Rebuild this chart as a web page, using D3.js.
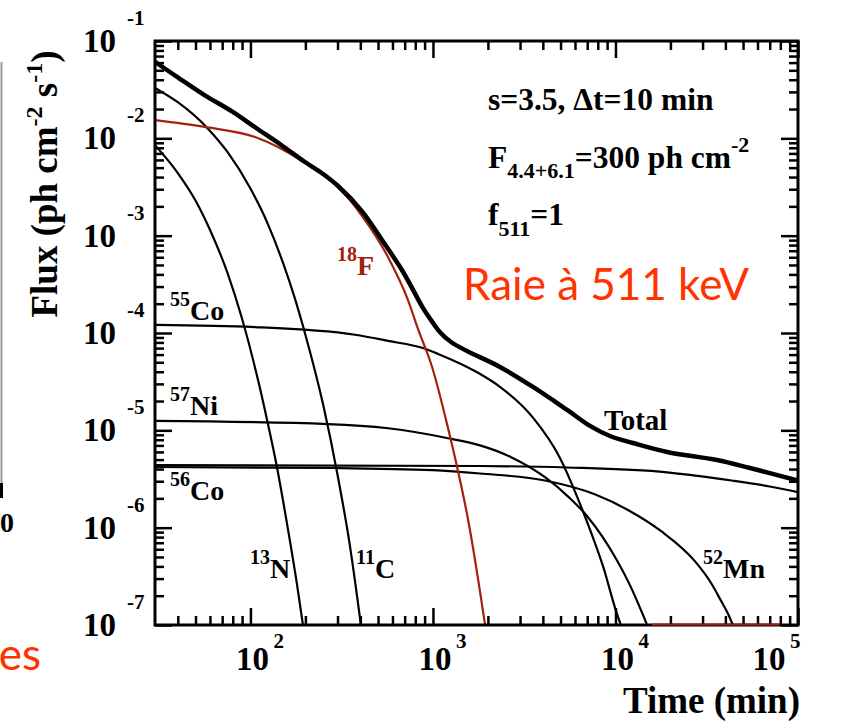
<!DOCTYPE html>
<html><head><meta charset="utf-8">
<script src="https://cdn.jsdelivr.net/npm/d3@7"></script>
<style>body{margin:0;background:#fff}svg{display:block}</style>
</head><body><svg id="chart" width="843" height="725"></svg>
<script>
// ---------- data ----------
const xMajorTicks = [100, 1000, 10000, 100000];
const xMajorExp = ["2", "3", "4", "5"];
const yMajorTicks = [1e-7, 1e-6, 1e-5, 1e-4, 1e-3, 1e-2, 1e-1];
const yMajorExp = ["-7", "-6", "-5", "-4", "-3", "-2", "-1"];

const totalT = [30, 40, 56, 80, 106, 150, 199, 250, 302, 408, 526, 676, 778, 881, 1000, 1093, 1256, 1538, 2328, 3532, 5433, 7250, 9330, 12470, 19190, 35970, 54580, 100000];
const totalF = [6.1e-2, 4.23e-2, 2.78e-2, 1.87e-2, 1.3e-2, 8.34e-3, 5.71e-3, 4.3e-3, 3.24e-3, 1.79e-3, 9.0e-4, 4.44e-4, 2.77e-4, 1.81e-4, 1.27e-4, 1.02e-4, 8.08e-5, 6.52e-5, 4.48e-5, 2.79e-5, 1.62e-5, 1.11e-5, 8.74e-6, 7.41e-6, 5.99e-6, 4.95e-6, 4.1e-6, 3.05e-6];

const f18T = [30, 56, 106, 199, 302, 408, 568, 730, 828, 988, 1210, 1372, 1556, 1811, 1930];
const f18F = [1.54e-2, 1.31e-2, 1.03e-2, 5.6e-3, 3.16e-3, 1.6e-3, 6.0e-4, 2.18e-4, 1.1e-4, 4.5e-5, 1.05e-5, 3.8e-6, 1.22e-6, 2.2e-7, 1.0e-7];
const f18FloorT = [15800, 79000];
const f18FloorF = [1e-7, 1e-7];

const c11T = [30, 40, 58, 75, 100, 125, 150, 175, 200, 250, 300, 350, 403];
const c11F = [3.3e-2, 2.35e-2, 1.28e-2, 7.2e-3, 3.05e-3, 1.3e-3, 5.4e-4, 2.28e-4, 9.6e-5, 1.85e-5, 3.5e-6, 6.7e-7, 1.0e-7];

const n13T = [30, 40, 50, 60, 75, 90, 110, 124, 139, 160, 180, 194];
const n13F = [8.5e-3, 4.4e-3, 2.3e-3, 1.15e-3, 4.1e-4, 1.4e-4, 3.3e-5, 1.22e-5, 4.4e-6, 1.0e-6, 2.6e-7, 1.0e-7];

const co55T = [30, 106, 374, 568, 881, 1067, 1766, 2328, 3532, 4966, 6152, 6982, 8551, 10190, 10700];
const co55F = [1.21e-4, 1.15e-4, 9.6e-5, 8.3e-5, 7.0e-5, 6.1e-5, 3.9e-5, 2.8e-5, 1.35e-5, 5.2e-6, 2.1e-6, 1.15e-6, 4.0e-7, 1.3e-7, 1.0e-7];

const ni57T = [30, 266, 568, 1210, 1811, 2680, 4110, 5640, 6980, 8550, 10200, 12000, 14000, 14900];
const ni57F = [1.25e-5, 1.16e-5, 1.05e-5, 8.3e-6, 7.0e-6, 5.3e-6, 3.3e-6, 2.0e-6, 1.32e-6, 7.9e-7, 4.6e-7, 2.57e-7, 1.33e-7, 1.0e-7];

const co56T = [30, 1811, 5433, 19190, 43300, 70000, 100000];
const co56F = [4.4e-6, 4.3e-6, 4.15e-6, 3.7e-6, 3.05e-6, 2.65e-6, 2.32e-6];

const mn52T = [30, 300, 1000, 1811, 4110, 7700, 11700, 17800, 27300, 33400, 38000, 41400, 44000];
const mn52F = [4.2e-6, 4.1e-6, 3.9e-6, 3.6e-6, 3.05e-6, 2.2e-6, 1.52e-6, 9.2e-7, 4.5e-7, 2.7e-7, 1.75e-7, 1.3e-7, 1.0e-7];

// ---------- layout ----------
const L = 155, R = 798, T = 41, B = 625;
const SERIF = "'Liberation Serif','Times New Roman',Times,serif";
const SANS = "Lato,'Open Sans',sans-serif";
const RED = "#a3200f";

const svg = d3.select("#chart");
svg.append("rect").attr("width", 843).attr("height", 725).attr("fill", "#fff");

const x = d3.scaleLog().domain([30, 1e5]).range([L, R]);
const y = d3.scaleLog().domain([1e-7, 1e-1]).range([B, T]);

svg.append("defs").append("clipPath").attr("id", "clip")
  .append("rect").attr("x", L).attr("y", T).attr("width", R - L).attr("height", B - T);

const zip = (ts, fs) => ts.map((t, i) => ({t, f: fs[i]}));
const line = d3.line().x(d => x(d.t)).y(d => y(d.f)).curve(d3.curveMonotoneX);
const smoothLine = d3.line().x(d => x(d.t)).y(d => y(d.f)).curve(d3.curveCatmullRom.alpha(0.5));

const plot = svg.append("g").attr("clip-path", "url(#clip)");
const series = [
  {d: zip(n13T, n13F), c: "#000", w: 2.2, g: line},
  {d: zip(c11T, c11F), c: "#000", w: 2.2, g: line},
  {d: zip(co55T, co55F), c: "#000", w: 2.2, g: line},
  {d: zip(ni57T, ni57F), c: "#000", w: 2.2, g: line},
  {d: zip(co56T, co56F), c: "#000", w: 2.2, g: line},
  {d: zip(mn52T, mn52F), c: "#000", w: 2.2, g: line},
  {d: zip(f18T, f18F), c: RED, w: 2.2, g: line},
  {d: zip(totalT, totalF), c: "#000", w: 4.5, g: smoothLine}
];
series.forEach(s => plot.append("path").attr("d", s.g(s.d))
  .attr("fill", "none").attr("stroke", s.c).attr("stroke-width", s.w));

// ---------- axes ----------
const xMinor = [];
[10, 100, 1000, 10000].forEach(dec => { for (let m = 2; m <= 9; m++) { const v = m * dec; if (v > 30 && v < 1e5) xMinor.push(v); } });
const yMinor = [];
[1e-7, 1e-6, 1e-5, 1e-4, 1e-3, 1e-2].forEach(dec => { for (let m = 2; m <= 9; m++) yMinor.push(m * dec); });

function styleAxis(g) {
  g.select(".domain").remove();
  g.selectAll(".tick line").attr("stroke", "#000").attr("stroke-width", 2.5);
  g.selectAll(".tick text").remove();
}
const axes = svg.append("g");
axes.append("g").attr("transform", `translate(0,${B})`).call(d3.axisBottom(x).tickValues(xMajorTicks).tickSizeInner(-17).tickSizeOuter(0)).call(styleAxis);
axes.append("g").attr("transform", `translate(0,${B})`).call(d3.axisBottom(x).tickValues(xMinor).tickSizeInner(-9).tickSizeOuter(0)).call(styleAxis);
axes.append("g").attr("transform", `translate(0,${T})`).call(d3.axisTop(x).tickValues(xMajorTicks).tickSizeInner(-17).tickSizeOuter(0)).call(styleAxis);
axes.append("g").attr("transform", `translate(0,${T})`).call(d3.axisTop(x).tickValues(xMinor).tickSizeInner(-9).tickSizeOuter(0)).call(styleAxis);
axes.append("g").attr("transform", `translate(${L},0)`).call(d3.axisLeft(y).tickValues(yMajorTicks).tickSizeInner(-17).tickSizeOuter(0)).call(styleAxis);
axes.append("g").attr("transform", `translate(${L},0)`).call(d3.axisLeft(y).tickValues(yMinor).tickSizeInner(-9).tickSizeOuter(0)).call(styleAxis);
axes.append("g").attr("transform", `translate(${R},0)`).call(d3.axisRight(y).tickValues(yMajorTicks).tickSizeInner(-17).tickSizeOuter(0)).call(styleAxis);
axes.append("g").attr("transform", `translate(${R},0)`).call(d3.axisRight(y).tickValues(yMinor).tickSizeInner(-9).tickSizeOuter(0)).call(styleAxis);
svg.append("rect").attr("x", L).attr("y", T).attr("width", R - L).attr("height", B - T)
  .attr("fill", "none").attr("stroke", "#000").attr("stroke-width", 3);

// red clamped segment along bottom axis
svg.append("path").attr("d", line(zip(f18FloorT, f18FloorF)))
  .attr("fill", "none").attr("stroke", RED).attr("stroke-width", 2).attr("transform", "translate(0,-0.5)");

// ---------- tick labels ----------
const lab = svg.append("g").attr("font-family", SERIF).attr("font-weight", "bold").attr("fill", "#000");
yMajorTicks.forEach((v, i) => {
  lab.append("text").attr("x", 116).attr("y", y(v) + 11).attr("text-anchor", "end").attr("font-size", 33).text("10");
  lab.append("text").attr("x", 127).attr("y", y(v) - 16).attr("font-size", 21).text(yMajorExp[i]);
});
xMajorTicks.forEach((v, i) => {
  const cx = Math.min(x(v) + 2, R - 29);
  lab.append("text").attr("x", cx).attr("y", 670).attr("text-anchor", "middle").attr("font-size", 33).text("10");
  lab.append("text").attr("x", cx + 21).attr("y", 648).attr("font-size", 21).text(xMajorExp[i]);
});

// axis titles
lab.append("text").attr("x", 800).attr("y", 713).attr("text-anchor", "end").attr("font-size", 37).text("Time (min)");
const yt = lab.append("text").attr("transform", "translate(57,184) rotate(-90)").attr("text-anchor", "middle").attr("font-size", 37);
yt.append("tspan").text("Flux (ph cm");
yt.append("tspan").attr("font-size", 24).attr("dy", -15).text("-2");
yt.append("tspan").attr("dy", 15).text(" s");
yt.append("tspan").attr("font-size", 24).attr("dy", -15).text("-1");
yt.append("tspan").attr("dy", 15).text(")");

// ---------- annotations ----------
function iso(xp, yp, sup, main, color) {
  const t = lab.append("text").attr("x", xp).attr("y", yp).attr("font-size", 28).attr("fill", color || "#000");
  t.append("tspan").attr("font-size", 20).attr("dy", -14).text(sup);
  t.append("tspan").attr("dy", 14).text(main);
}
iso(170, 320, "55", "Co");
iso(170, 415, "57", "Ni");
iso(170, 500, "56", "Co");
iso(250, 578, "13", "N");
iso(356, 578, "11", "C");
iso(703, 578, "52", "Mn");
iso(337, 275, "18", "F", RED);
lab.append("text").attr("x", 604).attr("y", 430).attr("font-size", 29).text("Total");

lab.append("text").attr("x", 488).attr("y", 110).attr("font-size", 31.5).text("s=3.5, \u0394t=10 min");
const t2 = lab.append("text").attr("x", 488).attr("y", 168).attr("font-size", 31.5);
t2.append("tspan").text("F");
t2.append("tspan").attr("font-size", 22).attr("dy", 10).text("4.4+6.1");
t2.append("tspan").attr("dy", -10).text("=300 ph cm");
t2.append("tspan").attr("font-size", 22).attr("dy", -16).text("-2");
const t3 = lab.append("text").attr("x", 488).attr("y", 225).attr("font-size", 31.5);
t3.append("tspan").text("f");
t3.append("tspan").attr("font-size", 22).attr("dy", 11).text("511");
t3.append("tspan").attr("dy", -11).text("=1");

svg.append("text").attr("x", 463).attr("y", 300).attr("font-family", SANS).attr("font-size", 44)
  .attr("fill", "#ff3300").text("Raie \u00e0 511 keV");

// ---------- cropped remnants at the left edge ----------
svg.append("line").attr("x1", 1.5).attr("x2", 1.5).attr("y1", 62).attr("y2", 483).attr("stroke", "#9a9a9a").attr("stroke-width", 2);
svg.append("line").attr("x1", 1.5).attr("x2", 1.5).attr("y1", 483).attr("y2", 498).attr("stroke", "#000").attr("stroke-width", 3);
lab.append("text").attr("x", 0).attr("y", 532).attr("font-size", 28).text("0");
svg.append("text").attr("x", 41).attr("y", 670).attr("text-anchor", "end").attr("font-family", SANS).attr("font-size", 44)
  .attr("fill", "#ff3300").text("es");
</script></body></html>
